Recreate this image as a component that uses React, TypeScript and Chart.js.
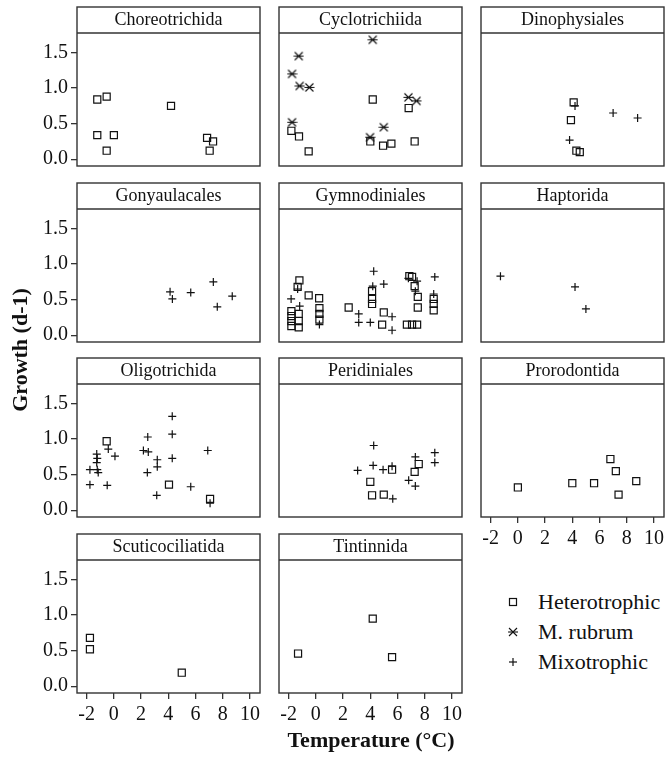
import React, { useEffect, useRef } from 'react';
import { Chart, registerables } from 'chart.js';

Chart.register(...registerables);

const FONT = "'Liberation Serif', 'Times New Roman', Times, serif";

// ---------------- data ----------------
const panelNames = [
  'Choreotrichida', 'Cyclotrichiida', 'Dinophysiales',
  'Gonyaulacales', 'Gymnodiniales', 'Haptorida',
  'Oligotrichida', 'Peridiniales', 'Prorodontida',
  'Scuticociliatida', 'Tintinnida',
];
const seriesNames = ['Heterotrophic', 'M. rubrum', 'Mixotrophic'];
const xTickValues = [-2, 0, 2, 4, 6, 8, 10];
const xTickLabels = ['-2', '0', '2', '4', '6', '8', '10'];
const yTickValues = [0, 0.5, 1, 1.5];
const yTickLabels = ['0.0', '0.5', '1.0', '1.5'];
const xRange = [-2.71, 10.74];
const yRange = [-0.095, 1.775];
const xAxisTitle = 'Temperature (°C)';
const yAxisTitle = 'Growth (d-1)';

type Pt = [number, number];

const choreotrichidaHet: Pt[] = [[-1.22, 0.84], [-0.53, 0.88], [-1.22, 0.34], [0.0, 0.34], [-0.53, 0.12], [4.2, 0.75], [6.85, 0.3], [7.29, 0.25], [7.04, 0.12]];
const choreotrichidaRub: Pt[] = [];
const choreotrichidaMix: Pt[] = [];

const cyclotrichiidaHet: Pt[] = [[-1.8, 0.4], [-1.24, 0.32], [-0.53, 0.11], [4.18, 0.84], [4.0, 0.25], [4.94, 0.19], [5.55, 0.22], [6.82, 0.72], [7.26, 0.25]];
const cyclotrichiidaRub: Pt[] = [[4.18, 1.68], [-1.26, 1.45], [-1.75, 1.2], [-1.19, 1.03], [-0.48, 1.01], [-1.75, 0.52], [4.99, 0.45], [3.98, 0.31], [6.8, 0.87], [7.4, 0.82]];
const cyclotrichiidaMix: Pt[] = [];

const dinophysialesHet: Pt[] = [[4.1, 0.8], [3.9, 0.55], [4.3, 0.12], [4.55, 0.1]];
const dinophysialesRub: Pt[] = [];
const dinophysialesMix: Pt[] = [[4.2, 0.75], [7.0, 0.65], [8.8, 0.58], [3.8, 0.27]];

const gonyaulacalesHet: Pt[] = [];
const gonyaulacalesRub: Pt[] = [];
const gonyaulacalesMix: Pt[] = [[4.13, 0.61], [4.3, 0.51], [5.65, 0.6], [7.31, 0.75], [7.6, 0.4], [8.7, 0.55]];

const gymnodinialesHet: Pt[] = [
  [-1.21, 0.77], [-1.34, 0.68], [-0.53, 0.56], [0.24, 0.52], [-1.8, 0.34], [-1.8, 0.27], [-1.8, 0.2], [-1.8, 0.13],
  [-1.26, 0.3], [-1.26, 0.2], [-1.26, 0.11], [0.26, 0.38], [0.26, 0.3], [0.26, 0.22],
  [2.41, 0.39], [4.13, 0.62], [4.13, 0.51], [4.13, 0.44], [4.99, 0.32], [4.87, 0.15],
  [6.87, 0.83], [7.07, 0.82], [7.26, 0.69], [7.49, 0.54], [7.49, 0.39], [6.69, 0.15], [7.07, 0.15], [7.44, 0.15],
  [8.66, 0.51], [8.66, 0.44], [8.66, 0.35],
];
const gymnodinialesRub: Pt[] = [];
const gymnodinialesMix: Pt[] = [
  [-1.34, 0.65], [-1.82, 0.51], [-1.19, 0.41], [0.26, 0.15], [3.15, 0.3], [3.15, 0.18], [4.0, 0.18],
  [4.25, 0.9], [4.99, 0.72], [4.18, 0.69], [5.6, 0.26], [5.6, 0.07],
  [6.8, 0.8], [7.44, 0.76], [7.31, 0.62], [8.74, 0.82], [8.66, 0.58],
];

const haptoridaHet: Pt[] = [];
const haptoridaRub: Pt[] = [];
const haptoridaMix: Pt[] = [[-1.28, 0.83], [4.2, 0.68], [5.0, 0.37]];

const oligotrichidaHet: Pt[] = [[-0.53, 0.97], [4.05, 0.36], [7.07, 0.16]];
const oligotrichidaRub: Pt[] = [];
const oligotrichidaMix: Pt[] = [
  [-0.41, 0.86], [0.08, 0.76], [-1.26, 0.79], [-1.22, 0.73], [-1.26, 0.67], [-1.76, 0.57], [-1.22, 0.57], [-1.15, 0.53],
  [-1.76, 0.36], [-0.49, 0.35], [2.49, 1.03], [2.17, 0.84], [2.53, 0.82], [3.19, 0.71], [3.19, 0.61], [2.46, 0.53],
  [3.15, 0.21], [4.29, 1.32], [4.29, 1.07], [4.29, 0.73], [5.65, 0.33], [6.9, 0.84], [7.07, 0.1],
];

const peridinialesHet: Pt[] = [[5.6, 0.57], [4.0, 0.4], [4.13, 0.21], [4.99, 0.22], [7.56, 0.65], [7.26, 0.54]];
const peridinialesRub: Pt[] = [];
const peridinialesMix: Pt[] = [[4.25, 0.91], [3.07, 0.56], [4.21, 0.63], [4.94, 0.57], [5.6, 0.62], [5.65, 0.16], [7.31, 0.75], [6.82, 0.42], [7.31, 0.34], [8.74, 0.81], [8.74, 0.67]];

const prorodontidaHet: Pt[] = [[0.0, 0.32], [4.0, 0.38], [5.6, 0.38], [6.8, 0.72], [7.2, 0.55], [7.4, 0.22], [8.7, 0.41]];
const prorodontidaRub: Pt[] = [];
const prorodontidaMix: Pt[] = [];

const scuticociliatidaHet: Pt[] = [[-1.76, 0.68], [-1.76, 0.52], [4.99, 0.19]];
const scuticociliatidaRub: Pt[] = [];
const scuticociliatidaMix: Pt[] = [];

const tintinnidaHet: Pt[] = [[-1.31, 0.46], [4.18, 0.95], [5.6, 0.41]];
const tintinnidaRub: Pt[] = [];
const tintinnidaMix: Pt[] = [];

const panelSeries: Pt[][][] = [
  [choreotrichidaHet, choreotrichidaRub, choreotrichidaMix],
  [cyclotrichiidaHet, cyclotrichiidaRub, cyclotrichiidaMix],
  [dinophysialesHet, dinophysialesRub, dinophysialesMix],
  [gonyaulacalesHet, gonyaulacalesRub, gonyaulacalesMix],
  [gymnodinialesHet, gymnodinialesRub, gymnodinialesMix],
  [haptoridaHet, haptoridaRub, haptoridaMix],
  [oligotrichidaHet, oligotrichidaRub, oligotrichidaMix],
  [peridinialesHet, peridinialesRub, peridinialesMix],
  [prorodontidaHet, prorodontidaRub, prorodontidaMix],
  [scuticociliatidaHet, scuticociliatidaRub, scuticociliatidaMix],
  [tintinnidaHet, tintinnidaRub, tintinnidaMix],
];

// ---------------- layout ----------------
const FRAME_LEFT = [77, 279, 481];
const FRAME_W = 183;
const ROW_TOP = [7, 183, 358, 534];
const HEADER_H = 26;
const PLOT_H = 133;
const PAD = 3;
const Y_AXIS_W = 62;
const X_AXIS_H = 38;
const INK = '#111';
const FRAME_COLOR = '#333';

let asteriskCanvas: HTMLCanvasElement | null = null;
function getAsterisk(): HTMLCanvasElement {
  if (asteriskCanvas) return asteriskCanvas;
  const c = document.createElement('canvas');
  c.width = 11;
  c.height = 11;
  const g = c.getContext('2d')!;
  g.strokeStyle = INK;
  g.lineWidth = 1.1;
  g.beginPath();
  g.moveTo(1.5, 1.5); g.lineTo(9.5, 9.5);
  g.moveTo(9.5, 1.5); g.lineTo(1.5, 9.5);
  g.moveTo(0.5, 5.5); g.lineTo(10.5, 5.5);
  g.stroke();
  asteriskCanvas = c;
  return c;
}

const framePlugin = {
  id: 'panelFrame',
  afterDraw(chart: any) {
    const { ctx, chartArea: a } = chart;
    ctx.save();
    ctx.strokeStyle = FRAME_COLOR;
    ctx.lineWidth = 1.4;
    ctx.strokeRect(a.left, a.top - HEADER_H, a.right - a.left, a.bottom - a.top + HEADER_H);
    ctx.beginPath();
    ctx.moveTo(a.left, a.top);
    ctx.lineTo(a.right, a.top);
    ctx.stroke();
    ctx.restore();
  },
};

const noPad = (s: any) => {
  s.paddingTop = 0;
  s.paddingBottom = 0;
  s.paddingLeft = 0;
  s.paddingRight = 0;
};

function Panel({ idx }: { idx: number }) {
  const ref = useRef<HTMLCanvasElement>(null);
  const col = idx % 3;
  const row = Math.floor(idx / 3);
  const showY = col === 0;
  const showX = row === 3 || (row === 2 && col === 2);
  const yW = showY ? Y_AXIS_W : 0;
  const leftM = PAD + yW;
  const w = leftM + FRAME_W + PAD + yW;
  const h = PAD + HEADER_H + PLOT_H + (showX ? X_AXIS_H : 0) + PAD;
  const left = FRAME_LEFT[col] - leftM;
  const top = ROW_TOP[row] - PAD;

  useEffect(() => {
    const [het, rub, mix] = panelSeries[idx];
    const toXY = (arr: Pt[]) => arr.map(([x, y]) => ({ x, y }));
    const chart = new Chart(ref.current!, {
      type: 'scatter',
      data: {
        datasets: [
          {
            label: seriesNames[0],
            data: toXY(het),
            pointStyle: 'rect',
            pointRadius: 5,
            borderColor: INK,
            backgroundColor: 'rgba(0,0,0,0)',
            borderWidth: 1.2,
          },
          {
            label: seriesNames[1],
            data: toXY(rub),
            pointStyle: getAsterisk(),
            pointRadius: 5,
            borderColor: INK,
            backgroundColor: 'rgba(0,0,0,0)',
          },
          {
            label: seriesNames[2],
            data: toXY(mix),
            pointStyle: 'cross',
            pointRadius: 4,
            borderColor: INK,
            backgroundColor: 'rgba(0,0,0,0)',
            borderWidth: 1.2,
          },
        ],
      },
      options: {
        responsive: false,
        animation: false,
        devicePixelRatio: 1,
        layout: { autoPadding: false, padding: PAD },
        plugins: {
          legend: { display: false },
          tooltip: { enabled: false },
          title: {
            display: true,
            text: panelNames[idx],
            color: INK,
            font: { family: FONT, size: 18, weight: 'normal', lineHeight: 1.2 },
            padding: { top: 2.2, bottom: 2.2 },
          },
        },
        scales: {
          x: {
            type: 'linear',
            min: xRange[0],
            max: xRange[1],
            display: true,
            afterBuildTicks: (s: any) => { s.ticks = xTickValues.map((v) => ({ value: v })); },
            afterFit: (s: any) => { s.height = showX ? X_AXIS_H : 0; noPad(s); },
            ticks: {
              display: showX,
              color: INK,
              font: { family: FONT, size: 20 },
              padding: 4,
              maxRotation: 0,
              autoSkip: false,
              callback: (_v: any, i: number) => xTickLabels[i],
            },
            grid: { display: showX, drawOnChartArea: false, drawTicks: true, tickLength: 6, color: FRAME_COLOR, lineWidth: 1.3 },
            border: { display: false },
          },
          y: {
            type: 'linear',
            position: 'left',
            min: yRange[0],
            max: yRange[1],
            display: true,
            afterBuildTicks: (s: any) => { s.ticks = yTickValues.map((v) => ({ value: v })); },
            afterFit: (s: any) => { s.width = yW; noPad(s); },
            ticks: {
              display: showY,
              color: INK,
              font: { family: FONT, size: 20 },
              padding: 3,
              autoSkip: false,
              callback: (_v: any, i: number) => yTickLabels[i],
            },
            grid: { display: showY, drawOnChartArea: false, drawTicks: true, tickLength: 6, color: FRAME_COLOR, lineWidth: 1.3 },
            border: { display: false },
          },
          // invisible spacer on the right so the panel title is centred on the frame
          ySpacer: {
            type: 'linear',
            position: 'right',
            display: true,
            min: yRange[0],
            max: yRange[1],
            afterFit: (s: any) => { s.width = yW; noPad(s); },
            ticks: { display: false },
            grid: { display: false },
            border: { display: false },
          },
        },
      },
      plugins: [framePlugin],
    } as any);
    return () => chart.destroy();
  }, [idx]);

  return (
    <canvas
      ref={ref}
      width={w}
      height={h}
      style={{ position: 'absolute', left, top, width: w, height: h }}
    />
  );
}

function LegendIcon({ kind }: { kind: number }) {
  return (
    <svg width={12} height={12} style={{ position: 'absolute', left: -6, top: -6 }}>
      {kind === 0 && <rect x={2.5} y={2.5} width={7} height={7} fill="none" stroke={INK} strokeWidth={1.2} />}
      {kind === 1 && (
        <g stroke={INK} strokeWidth={1.1}>
          <line x1={2} y1={2} x2={10} y2={10} />
          <line x1={10} y1={2} x2={2} y2={10} />
          <line x1={1} y1={6} x2={11} y2={6} />
        </g>
      )}
      {kind === 2 && (
        <g stroke={INK} strokeWidth={1.2}>
          <line x1={2} y1={6} x2={10} y2={6} />
          <line x1={6} y1={2} x2={6} y2={10} />
        </g>
      )}
    </svg>
  );
}

export default function App() {
  const legendY = [602, 632, 662];
  return (
    <div style={{ position: 'absolute', left: 0, top: 0, width: 672, height: 760, background: '#fff', fontFamily: FONT, color: INK }}>
      {panelNames.map((_, i) => (
        <Panel key={i} idx={i} />
      ))}
      {seriesNames.map((name, i) => (
        <div key={name}>
          <div style={{ position: 'absolute', left: 513, top: legendY[i] }}>
            <LegendIcon kind={i} />
          </div>
          <div
            style={{
              position: 'absolute',
              left: 538,
              top: legendY[i] - 14,
              height: 28,
              lineHeight: '28px',
              fontSize: 22,
              whiteSpace: 'nowrap',
            }}
          >
            {name}
          </div>
        </div>
      ))}
      <div
        style={{
          position: 'absolute',
          left: 221,
          width: 300,
          top: 727,
          lineHeight: '26px',
          fontSize: 22,
          fontWeight: 'bold',
          textAlign: 'center',
          whiteSpace: 'nowrap',
        }}
      >
        {xAxisTitle}
      </div>
      <div
        style={{
          position: 'absolute',
          left: 20 - 100,
          top: 350 - 13,
          width: 200,
          height: 26,
          lineHeight: '26px',
          fontSize: 22,
          fontWeight: 'bold',
          textAlign: 'center',
          whiteSpace: 'nowrap',
          transform: 'rotate(-90deg)',
          transformOrigin: '50% 50%',
        }}
      >
        {yAxisTitle}
      </div>
    </div>
  );
}
